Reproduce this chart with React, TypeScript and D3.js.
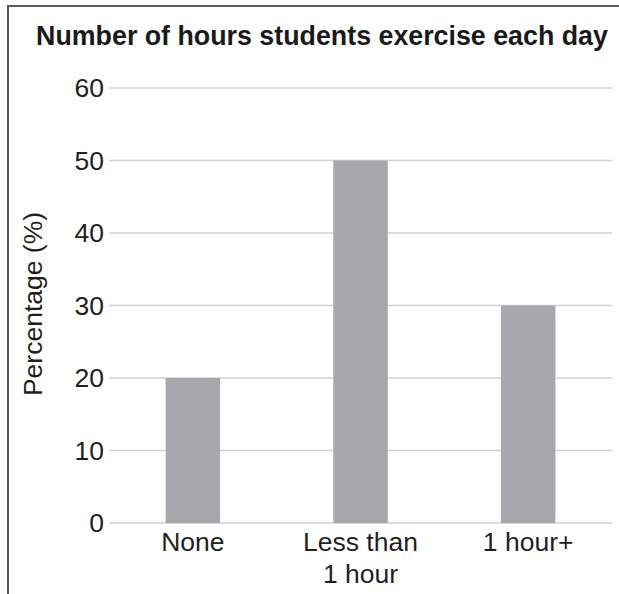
import React from "react";
import * as d3 from "d3";

const categories: string[][] = [["None"], ["Less than", "1 hour"], ["1 hour+"]];
const values: number[] = [20, 50, 30];
const yTicks: number[] = [0, 10, 20, 30, 40, 50, 60];
const title = "Number of hours students exercise each day";
const yLabel = "Percentage (%)";

export default function App() {
  const W = 619, H = 594;
  const x0 = 109, x1 = 612;
  const y = d3.scaleLinear().domain([0, 60]).range([523, 88]);
  const x = d3
    .scaleBand<number>()
    .domain(values.map((_, i) => i))
    .range([x0, x1])
    .paddingInner(0.675)
    .paddingOuter(0.3375);
  const font = "'Liberation Sans', Arial, Helvetica, sans-serif";
  const fs = 26.5;
  return (
    <svg
      width={W}
      height={H}
      style={{ position: "absolute", left: 0, top: 0, background: "#fff" }}
      fontFamily={font}
    >
      <rect width={W} height={H} fill="#fff" />
      <path d={`M8,${H} V6 H${W}`} fill="none" stroke="#5a5a5a" strokeWidth={2} />
      <text x={322} y={45} textAnchor="middle" fontWeight="bold" fontSize={26.8} fill="#1a1a1a">
        {title}
      </text>
      {yTicks.map((t) => (
        <g key={t}>
          <line x1={x0} x2={x1} y1={y(t)} y2={y(t)} stroke="#d2d2d2" strokeWidth={1.3} />
          <text x={104} y={y(t)} dy="0.35em" textAnchor="end" fontSize={fs} fill="#231f20">
            {t}
          </text>
        </g>
      ))}
      {values.map((v, i) => (
        <rect
          key={i}
          x={x(i)!}
          y={y(v)}
          width={x.bandwidth()}
          height={y(0) - y(v)}
          fill="#a7a8ab"
        />
      ))}
      {categories.map((lines, i) => (
        <text
          key={i}
          x={x(i)! + x.bandwidth() / 2}
          y={551}
          textAnchor="middle"
          fontSize={fs}
          fill="#231f20"
        >
          {lines.map((l, j) => (
            <tspan key={j} x={x(i)! + x.bandwidth() / 2} dy={j === 0 ? 0 : 32}>
              {l}
            </tspan>
          ))}
        </text>
      ))}
      <text
        transform={`translate(42,304) rotate(-90)`}
        textAnchor="middle"
        fontSize={fs}
        fill="#231f20"
      >
        {yLabel}
      </text>
    </svg>
  );
}
